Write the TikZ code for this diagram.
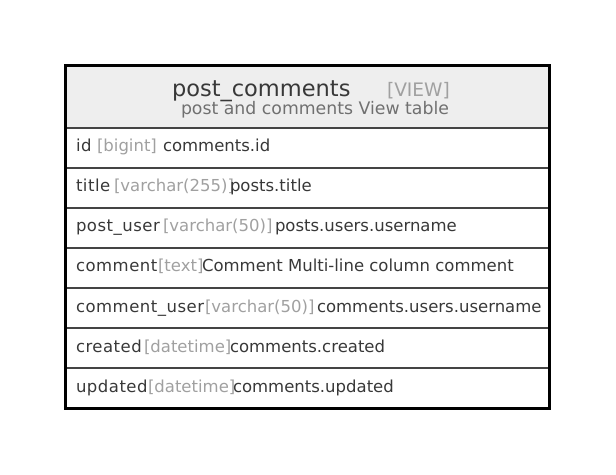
\documentclass[tikz,border=0pt]{standalone}
\usepackage{fontspec}
\setmainfont{DejaVu Sans}
\definecolor{ink}{HTML}{383838}
\definecolor{typegray}{HTML}{A0A0A0}
\definecolor{subgray}{HTML}{707070}
\definecolor{headfill}{HTML}{EEEEEE}
\definecolor{rule}{HTML}{444444}
\begin{document}
\begin{tikzpicture}[x=1bp,y=-1bp,
  lbl/.style={anchor=base west,inner sep=0pt,outer sep=0pt},
  colname/.style={lbl,text=ink,font=\fontsize{16.5bp}{20bp}\selectfont\addfontfeatures{LetterSpace=3}},
  coltype/.style={lbl,text=typegray,font=\fontsize{16.5bp}{20bp}\selectfont},
  coldesc/.style={lbl,text=ink,font=\fontsize{16.5bp}{20bp}\selectfont},
  tabletitle/.style={lbl,text=ink,font=\fontsize{22.5bp}{26bp}\selectfont},
  tablekind/.style={lbl,text=typegray,font=\fontsize{18.6bp}{22bp}\selectfont},
  tablesub/.style={lbl,text=subgray,font=\fontsize{17.3bp}{21bp}\selectfont},
  rowrule/.style={draw=rule,line width=2bp},
  frame/.style={draw=black,line width=3bp}]
\useasboundingbox (0,0) rectangle (616,475);

% header band
\fill[headfill] (65,65) rectangle (550,128);

% header texts
\node[tabletitle] (title) at (172,97) {post\_comments};
\node[tablekind] (kind) at (387,97) {[VIEW]};
\node[tablesub] (sub) at (181,115) {post and comments View table};

% row separators
\foreach \y in {128,168,208,248,288,328,368}
  \draw[rowrule] (65,\y) -- (550,\y);

% columns: name, type, description
\node[colname] (n1) at (76,152) {id};
\node[coltype] (t1) at (97,152) {[bigint]};
\node[coldesc] (d1) at (163,152) {comments.id};

\node[colname] (n2) at (76,192) {title};
\node[coltype] (t2) at (114,192) {[varchar(255)]};
\node[coldesc] (d2) at (230,192) {posts.title};

\node[colname] (n3) at (76,232) {post\_user};
\node[coltype] (t3) at (163,232) {[varchar(50)]};
\node[coldesc] (d3) at (275,232) {posts.users.username};

\node[colname] (n4) at (76,272) {comment};
\node[coltype] (t4) at (158,272) {[text]};
\node[coldesc] (d4) at (202,272) {Comment Multi-line column comment};

\node[colname] (n5) at (76,312) {comment\_user};
\node[coltype] (t5) at (205,312) {[varchar(50)]};
\node[coldesc] (d5) at (317,312) {comments.users.username};

\node[colname] (n6) at (76,352) {created};
\node[coltype] (t6) at (144,352) {[datetime]};
\node[coldesc] (d6) at (230,352) {comments.created};

\node[colname] (n7) at (76,392) {updated};
\node[coltype] (t7) at (148,392) {[datetime]};
\node[coldesc] (d7) at (233,392) {comments.updated};

% outer frame
\draw[frame] (65.5,65.5) rectangle (549.5,408.5);
\end{tikzpicture}
\end{document}
